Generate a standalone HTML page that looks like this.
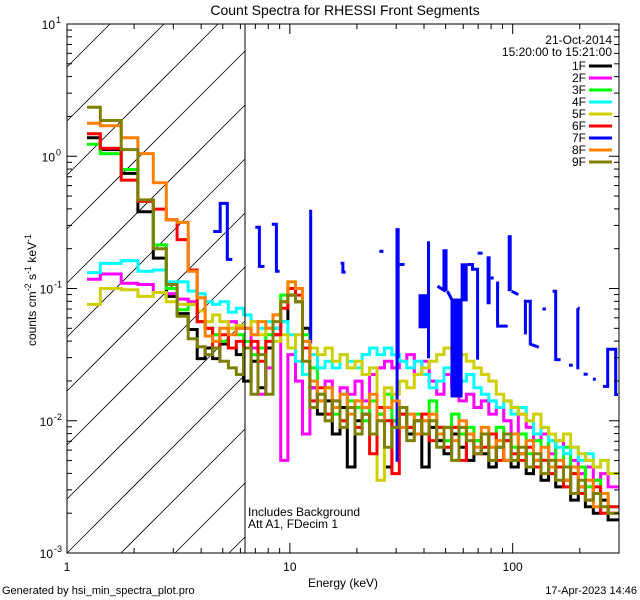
<!DOCTYPE html>
<html><head><meta charset="utf-8"><style>
html,body{margin:0;padding:0;background:#fff;width:640px;height:600px;overflow:hidden;}
svg{display:block;font-family:"Liberation Sans",sans-serif;position:absolute;left:0;top:0;}
</style></head><body>
<svg id="chart" width="640" height="600" viewBox="0 0 640 600" xmlns="http://www.w3.org/2000/svg" overflow="hidden">
<defs><clipPath id="plotclip"><rect x="67" y="24" width="552" height="529"/></clipPath></defs>
<rect x="0" y="0" width="640" height="600" fill="#fff"/>
<text x="345" y="15" font-size="14" text-anchor="middle">Count Spectra for RHESSI Front Segments</text>
<g id="hatch"></g>
<g id="series" clip-path="url(#plotclip)"></g>
<g id="axes"></g>
<text x="612" y="44" font-size="12" text-anchor="end">21-Oct-2014</text>
<text x="612" y="56" font-size="12" text-anchor="end">15:20:00 to 15:21:00</text>
<g id="legend"></g>
<text x="248" y="516" font-size="12">Includes Background</text>
<text x="248" y="528" font-size="12">Att A1, FDecim 1</text>
<text x="343" y="587" font-size="12" text-anchor="middle">Energy (keV)</text>
<text transform="translate(36,290) rotate(-90)" font-size="12" text-anchor="middle">counts cm<tspan dy="-5" font-size="9">-2</tspan><tspan dy="5"> s</tspan><tspan dy="-5" font-size="9">-1</tspan><tspan dy="5"> keV</tspan><tspan dy="-5" font-size="9">-1</tspan></text>
<text x="2" y="594" font-size="11">Generated by hsi_min_spectra_plot.pro</text>
<text x="637" y="594" font-size="11" text-anchor="end">17-Apr-2023 14:46</text>
</svg>
<script>
const energyEdges=[1.23,1.41,1.75,2.08,2.44,2.79,3.12,3.5,3.84,4.17,4.5,4.85,5.3,5.75,
6.2,6.7,7.2,7.8,8.4,9.1,9.8,10.6,11.4,12.3,13.3,14.4,15.5,16.8,18.1,19.6,21.1,22.8,24.6,26.6,28.7,31,33.5,36.2,39.1,42.2,45.6,49.2,53.2,57.4,62,67,72.3,78.1,84.4,91.1,98.4,106,115,124,134,145,156,169,182,197,212,230,248,268,300];
const segNames=["1F","2F","3F","4F","5F","6F","7F","8F","9F"];
const segColors=["#000000","#ff00ff","#00ff00","#00ffff","#d0d000","#ff0000","#0000ff","#ff8000","#808000"];
const log1F=[0.14,0.05,-0.13,-0.42,-0.77,-1.06,-1.19,-1.31,-1.53,-1.45,-1.53,-1.42,-1.45,-1.5,
-1.70,-1.55,-1.75,-1.45,-1.30,-1.25,-1.05,-1.10,-1.30,-1.75,
-1.95,-1.85,-2.10,-1.90,-2.35,-2.00,-1.95,-2.10,-1.95,-2.35,
-2.00,-1.95,-2.10,-2.00,-2.35,-2.05,-2.15,-2.25,-2.10,-2.20,
-2.30,-2.15,-2.25,-2.35,-2.20,-2.30,-2.35,-2.25,-2.40,-2.30,
-2.45,-2.35,-2.50,-2.45,-2.60,-2.50,-2.65,-2.70,-2.60,-2.75];
const log2F=[-0.93,-0.89,-0.96,-0.97,-1.03,-1.04,-1.08,-1.10,-1.25,-1.30,-1.35,-1.40,-1.25,-1.30,
-1.30,-1.45,-1.80,-1.60,-1.35,-2.30,-1.50,-1.70,-2.10,-1.75,
-1.85,-1.70,-1.90,-1.75,-1.80,-1.70,-1.85,-1.65,-1.60,-1.55,
-1.60,-1.55,-1.50,-1.65,-1.55,-1.70,-1.80,-1.65,-1.75,-1.85,
-1.80,-1.90,-1.85,-1.95,-1.90,-2.00,-2.10,-1.95,-2.05,-2.15,
-2.10,-2.25,-2.15,-2.35,-2.30,-2.40,-2.35,-2.45,-2.40,-2.50];
const log3F=[0.09,0.02,-0.10,-0.34,-0.67,-1.00,-1.16,-1.12,-1.25,-1.30,-1.35,-1.40,-1.30,-1.35,
-1.40,-1.50,-1.45,-1.35,-1.20,-1.05,-0.95,-1.00,-1.35,-1.60,
-1.80,-1.75,-1.95,-1.80,-1.85,-1.90,-2.00,-1.85,-1.95,-1.80,
-2.00,-1.90,-2.05,-1.95,-2.00,-1.85,-2.05,-2.15,-1.95,-2.10,
-2.05,-2.15,-2.10,-2.20,-2.05,-2.15,-2.20,-2.10,-2.25,-2.15,
-2.30,-2.15,-2.35,-2.20,-2.40,-2.35,-2.50,-2.45,-2.55,-2.65];
const log4F=[-0.88,-0.81,-0.79,-0.87,-0.86,-0.95,-0.95,-1.02,-1.04,-1.10,-1.12,-1.10,-1.18,-1.15,
-1.20,-1.25,-1.30,-1.25,-1.30,-1.25,-1.35,-1.55,-1.65,-1.50,
-1.60,-1.55,-1.60,-1.50,-1.55,-1.60,-1.50,-1.45,-1.50,-1.45,
-1.50,-1.55,-1.60,-1.55,-1.65,-1.75,-1.70,-1.60,-1.65,-1.70,
-1.65,-1.75,-1.80,-1.85,-1.90,-1.85,-1.95,-1.90,-2.00,-2.10,
-2.05,-2.15,-2.20,-2.25,-2.20,-2.30,-2.25,-2.35,-2.30,-2.40];
const log5F=[-1.12,-1.00,-1.01,-1.06,-1.03,-1.10,-1.12,-1.12,-1.17,-1.25,-1.20,-1.25,-1.30,-1.28,
-1.30,-1.25,-1.35,-1.30,-1.40,-1.35,-1.45,-1.35,-1.40,-1.45,
-1.50,-1.45,-1.55,-1.50,-1.60,-1.55,-1.65,-1.60,-2.45,-1.75,
-1.80,-1.70,-1.75,-1.65,-1.60,-1.55,-1.50,-1.45,-1.50,-1.50,
-1.55,-1.60,-1.65,-1.70,-1.80,-1.85,-1.90,-1.95,-2.00,-1.95,
-2.05,-2.10,-2.15,-2.10,-2.20,-2.25,-2.30,-2.35,-2.30,-2.40];
const log6F=[0.17,0.06,-0.18,-0.34,-0.40,-0.48,-0.63,-0.86,-1.25,-1.30,-1.45,-1.35,-1.45,-1.40,
-1.45,-1.40,-1.55,-1.40,-1.35,-1.15,-1.00,-1.05,-1.45,-1.85,
-1.75,-1.95,-1.85,-2.00,-1.90,-2.05,-1.95,-2.25,-1.90,-2.00,
-2.40,-1.95,-2.05,-2.10,-1.95,-2.15,-2.05,-2.20,-2.05,-2.30,
-2.10,-2.25,-2.20,-2.10,-2.30,-2.15,-2.25,-2.30,-2.20,-2.35,
-2.30,-2.40,-2.35,-2.50,-2.40,-2.55,-2.60,-2.50,-2.70,-2.65];
const log8F=[0.25,0.23,0.14,0.02,-0.20,-0.48,-0.50,-0.87,-1.07,-1.36,-1.40,-1.30,-1.35,-1.30,
-1.30,-1.35,-1.25,-1.30,-1.20,-1.10,-0.95,-1.00,-1.40,-1.70,
-1.85,-1.75,-1.90,-1.80,-1.95,-1.85,-1.90,-1.80,-2.00,-1.90,
-1.85,-2.05,-1.95,-2.10,-2.00,-1.95,-2.10,-2.05,-2.15,-2.00,
-2.10,-2.20,-2.05,-2.20,-2.15,-2.30,-2.10,-2.25,-2.15,-2.30,
-2.20,-2.35,-2.30,-2.45,-2.35,-2.50,-2.45,-2.65,-2.55,-2.70];
const log9F=[0.37,0.27,0.05,-0.33,-0.70,-0.97,-1.21,-1.38,-1.44,-1.50,-1.45,-1.55,-1.60,-1.65,
-1.45,-1.80,-1.50,-1.80,-1.25,-1.10,-1.05,-1.10,-1.55,-1.90,
-1.80,-2.00,-1.85,-2.05,-1.90,-2.10,-1.95,-2.10,-2.00,-2.20,
-2.05,-1.90,-2.15,-2.00,-2.10,-2.00,-2.20,-2.05,-2.30,-2.05,
-2.15,-2.25,-2.10,-2.30,-2.20,-2.10,-2.30,-2.20,-2.35,-2.25,
-2.40,-2.30,-2.45,-2.35,-2.55,-2.45,-2.60,-2.55,-2.65,-2.70];
const blueLines=[
[[4.53,0.27],[4.87,0.27],[4.87,0.44],[5.24,0.44],[5.24,0.166],[5.52,0.166]],
[[7.0,0.29],[7.3,0.29],[7.3,0.147],[7.7,0.147]],
[[8.3,0.306],[8.7,0.306],[8.7,0.135],[9.0,0.135]],
[[12.2,0.384],[12.4,0.384],[12.4,0.0385]],
[[16.9,0.155],[17.3,0.155],[17.3,0.133],[17.8,0.133]],
[[25.2,0.191],[26.3,0.191]],
[[30.3,0.03],[30.3,0.0049]],
[[31.1,0.152],[32.7,0.152]],
[[41.9,0.228],[41.9,0.0297]],
[[46.0,0.104],[50.0,0.0954]],
[[51.0,0.0954],[53.2,0.083]],
[[62.8,0.152],[66,0.152],[66,0.14],[69.6,0.14],[69.6,0.029]],
[[69.6,0.185],[73.3,0.185]],
[[79.6,0.12],[82.2,0.12]],
[[85.6,0.113],[85.6,0.052],[95,0.052]],
[[99,0.0954],[106,0.09]],
[[114,0.045],[114,0.08],[120,0.08],[120,0.038],[131,0.036]],
[[136,0.07],[141,0.07]],
[[151,0.0954],[156,0.0954],[156,0.029],[164,0.029]],
[[179,0.0263],[186,0.0263]],
[[196,0.071],[200,0.071]],[[196,0.071],[196,0.0245]],
[[208,0.0225],[217,0.0225]],[[229,0.0206],[236,0.0206]],
[[254,0.0182],[267,0.0182],[267,0.0347],[290,0.0347],[290,0.0158],[297,0.0158]]];
const blueBandE1=[29.8,37.8,48.4,52.6,58.4,76.4,95];
const blueBandE2=[31.1,41.5,51.0,59.6,62.8,79.6,99];
const blueBandTop=[0.286,0.0905,0.198,0.084,0.155,0.175,0.253];
const blueBandBot=[0.0297,0.05,0.0954,0.015,0.080,0.076,0.0954];
const xTicks=[1,10,100];
const xTickLabels=["1","10","100"];
const yTickExps=[1,0,-1,-2,-3];

const NS="http://www.w3.org/2000/svg";
const X0=67,X1=619,Y0=24,Y1=553,XH=245;
const xMinLog=0,xMaxLog=Math.log10(300),yMinLog=-3,yMaxLog=1;
function xs(e){return X0+(Math.log10(e)-xMinLog)/(xMaxLog-xMinLog)*(X1-X0);}
function ys(v){return Y1-(Math.log10(v)-yMinLog)/(yMaxLog-yMinLog)*(Y1-Y0);}
function mk(tag,attrs,parent){const el=document.createElementNS(NS,tag);for(const k in attrs)el.setAttribute(k,attrs[k]);parent.appendChild(el);return el;}

// hatch lines y = yb - (x - X0), clipped to [X0,XH]x[Y0,Y1]
const hatch=document.getElementById('hatch');
for(let k=-12;k<14;k++){
  const yb=Y1+k*54;
  let xa=X0, ya=yb;
  if(ya>Y1){xa=X0+(ya-Y1);ya=Y1;}
  let xb=XH, yb2=yb-(XH-X0);
  if(yb2<Y0){xb=X0+(yb-Y0);yb2=Y0;}
  if(xa>=xb||xa>XH||xb<X0)continue;
  const ln=mk('line',{x1:xa,y1:ya,x2:xb,y2:yb2,stroke:'#000','stroke-width':0.8},hatch);
  
  
}
const vl=mk('line',{x1:XH,y1:Y0,x2:XH,y2:Y1,stroke:'#000','stroke-width':1},document.getElementById('axes'));



const series=document.getElementById('series');
const allLogs=[log1F,log2F,log3F,log4F,log5F,log6F,null,log8F,log9F];
allLogs.forEach((arr,si)=>{
  if(arr===null){
    const g=mk('g',{},series);
    
    
    blueLines.forEach(pts=>{
      let d='';pts.forEach((p,i)=>{d+=(i?'L':'M')+xs(p[0]).toFixed(1)+' '+ys(p[1]).toFixed(1);});
      const pth=mk('path',{d:d,fill:'none',stroke:segColors[6],'stroke-width':3},g);
      
      
    });
    blueBandE1.forEach((e1,i)=>{
      const xa=xs(e1),xb=xs(blueBandE2[i]),ya=ys(blueBandTop[i]),yb=ys(blueBandBot[i]);
      const r=mk('rect',{x:xa,y:ya,width:Math.max(2,xb-xa),height:yb-ya,fill:segColors[6]},g);
      
      
    });
    return;
  }
  let d='M'+xs(energyEdges[0]).toFixed(1)+' '+ys(Math.pow(10,arr[0])).toFixed(1);
  for(let i=0;i<arr.length;i++){
    const y=ys(Math.pow(10,arr[i])).toFixed(1);
    if(i>0)d+='V'+y;
    d+='H'+xs(energyEdges[i+1]).toFixed(1);
  }
  const p=mk('path',{d:d,fill:'none',stroke:segColors[si],'stroke-width':3,'stroke-linejoin':'miter'},series);
  
  
});

const axes=document.getElementById('axes');
const frame=mk('rect',{x:X0,y:Y0,width:X1-X0,height:Y1-Y0,fill:'none',stroke:'#000','stroke-width':1},axes);


for(let dec=0;dec<3;dec++){
  for(let m=1;m<10;m++){
    const e=m*Math.pow(10,dec); if(e>300)break;
    const x=xs(e),L=(m===1)?10:5;
    const t1=mk('line',{x1:x,y1:Y1,x2:x,y2:Y1-L,stroke:'#000'},axes);
    
    
    const t2=mk('line',{x1:x,y1:Y0,x2:x,y2:Y0+L,stroke:'#000'},axes);
    
    
  }
}
xTicks.forEach((e,i)=>{
  const t=mk('text',{x:xs(e),y:571,'font-size':12,'text-anchor':'middle'},axes);
  t.textContent=xTickLabels[i];
  
  
});
for(let ex=-3;ex<1;ex++){
  for(let m=1;m<10;m++){
    const v=m*Math.pow(10,ex),y=ys(v),L=(m===1)?10:5;
    const a=mk('line',{x1:X0,y1:y,x2:X0+L,y2:y,stroke:'#000'},axes);
    
    
    const b=mk('line',{x1:X1,y1:y,x2:X1-L,y2:y,stroke:'#000'},axes);
    
    
  }
}
yTickExps.forEach(ex=>{
  const y=ys(Math.pow(10,ex));
  const t=mk('text',{x:ex<0?53:55,y:y+5,'font-size':12,'text-anchor':'end'},axes);
  t.textContent='10';
  
  
  const s=mk('text',{x:ex<0?54:56,y:y-1,'font-size':9},axes);
  s.textContent=String(ex);
  
  
});

const legend=document.getElementById('legend');
segNames.forEach((n,i)=>{
  const y=66+i*12;
  const t=mk('text',{x:586,y:y+4,'font-size':12,'text-anchor':'end'},legend);
  t.textContent=n;
  
  
  const l=mk('line',{x1:589,y1:y,x2:612,y2:y,stroke:segColors[i],'stroke-width':3},legend);
  
  
});
</script>
</body></html>
